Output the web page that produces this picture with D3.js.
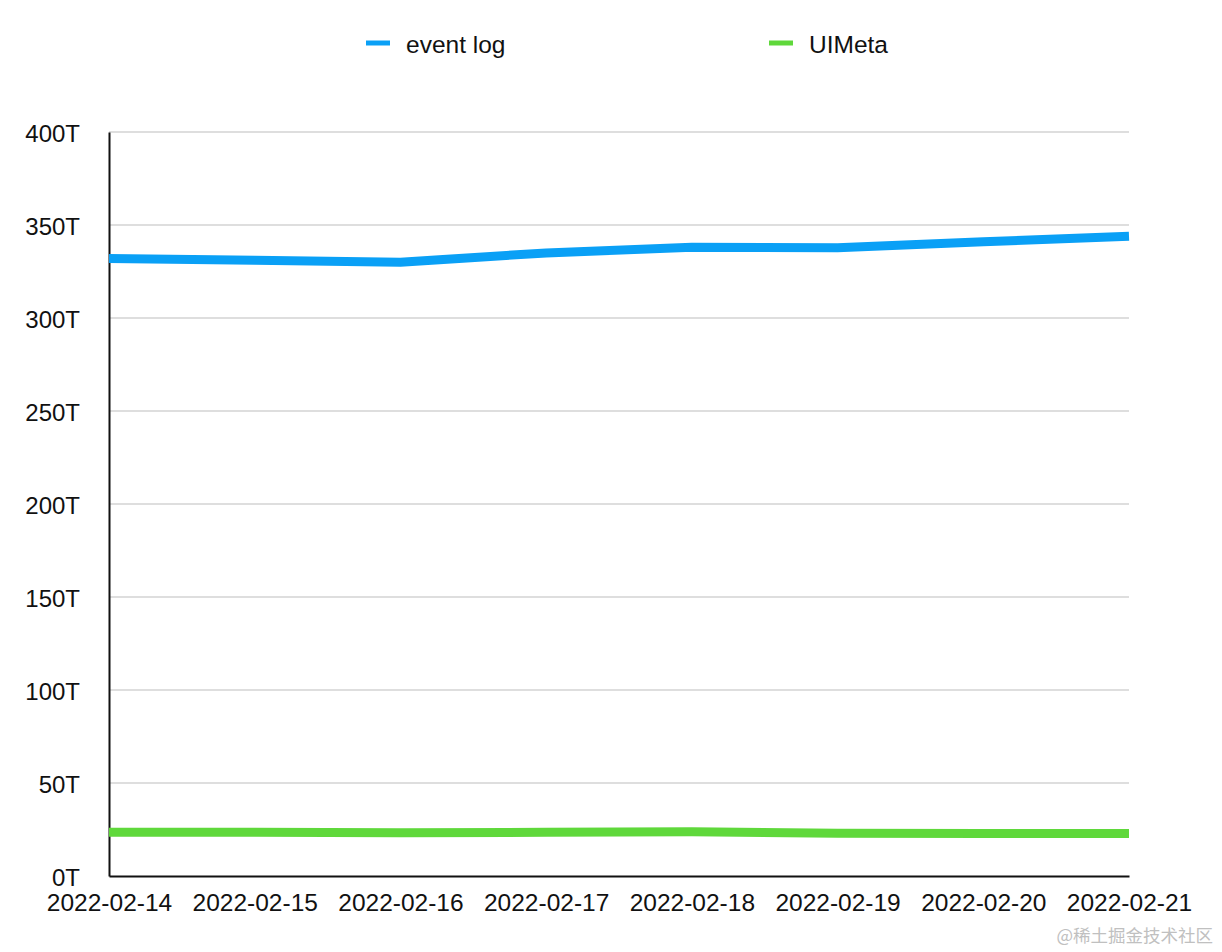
<!DOCTYPE html>
<html>
<head>
<meta charset="utf-8">
<script src="https://cdn.jsdelivr.net/npm/d3@7/dist/d3.min.js"></script>
<style>
  html, body { margin: 0; padding: 0; background: #fff; }
  svg { display: block; }
  text { font-family: "Liberation Sans", Arial, Helvetica, sans-serif; }
</style>
</head>
<body>
<svg id="chart" width="1222" height="952"></svg>
<script>
const dates = ["2022-02-14","2022-02-15","2022-02-16","2022-02-17","2022-02-18","2022-02-19","2022-02-20","2022-02-21"];
const eventLog = [332, 331, 330, 335, 338, 337.8, 341, 344];
const uiMeta = [23.5, 23.5, 23.2, 23.5, 23.8, 23.0, 22.8, 22.8];
const seriesNames = ["event log", "UIMeta"];
const seriesColors = ["#0aa0f6", "#5fd83b"];
const yTicks = [0, 50, 100, 150, 200, 250, 300, 350, 400];

(function () {
const svg = d3.select("#chart");
const mLeft = 109, mRight = 1129, mTop = 132, mBottom = 876;

const x = d3.scalePoint().domain(dates).range([mLeft, mRight]);
const y = d3.scaleLinear().domain([0, 400]).range([mBottom, mTop]);

// grid lines
svg.append("g")
  .selectAll("line")
  .data(yTicks.filter(d => d > 0))
  .join("line")
  .attr("x1", mLeft).attr("x2", mRight)
  .attr("y1", d => y(d)).attr("y2", d => y(d))
  .attr("stroke", "#bdbdbd").attr("stroke-width", 1);

// y axis
const yAxis = d3.axisLeft(y).tickValues(yTicks).tickFormat(d => d + "T").tickSize(0).tickPadding(29);
const gy = svg.append("g").attr("transform", `translate(${mLeft},0)`).call(yAxis);
gy.select(".domain").attr("stroke", "#111").attr("stroke-width", 2);
gy.selectAll("text").attr("font-size", 24).attr("fill", "#111").attr("dy", "0.4em");

// x axis
const xAxis = d3.axisBottom(x).tickSize(0).tickPadding(18);
const gx = svg.append("g").attr("transform", `translate(0,${mBottom})`).call(xAxis);
gx.select(".domain").attr("stroke", "#111").attr("stroke-width", 2);
gx.selectAll("text").attr("font-size", 24.5).attr("fill", "#111");

// lines
const line = d3.line().x((d, i) => x(dates[i])).y(d => y(d));
[eventLog, uiMeta].forEach((vals, k) => {
  svg.append("path")
    .datum(vals)
    .attr("fill", "none")
    .attr("stroke", seriesColors[k])
    .attr("stroke-width", 9)
    .attr("stroke-linejoin", "round")
    .attr("d", line);
});

// legend
const legendX = [366, 769];
const lg = svg.append("g");
seriesNames.forEach((name, k) => {
  lg.append("line")
    .attr("x1", legendX[k]).attr("x2", legendX[k] + 24)
    .attr("y1", 43).attr("y2", 43)
    .attr("stroke", seriesColors[k]).attr("stroke-width", 5);
  lg.append("text")
    .attr("x", legendX[k] + 40).attr("y", 53)
    .attr("font-size", 24.5).attr("fill", "#111")
    .text(name);
});

// watermark
svg.append("text")
  .attr("x", 1213).attr("y", 942)
  .attr("text-anchor", "end")
  .attr("font-size", 17.5)
  .attr("fill", "#c0c0c0")
  .style("font-family", "'Noto Sans CJK SC', sans-serif")
  .text("@稀土掘金技术社区");
})();
</script>
</body>
</html>
